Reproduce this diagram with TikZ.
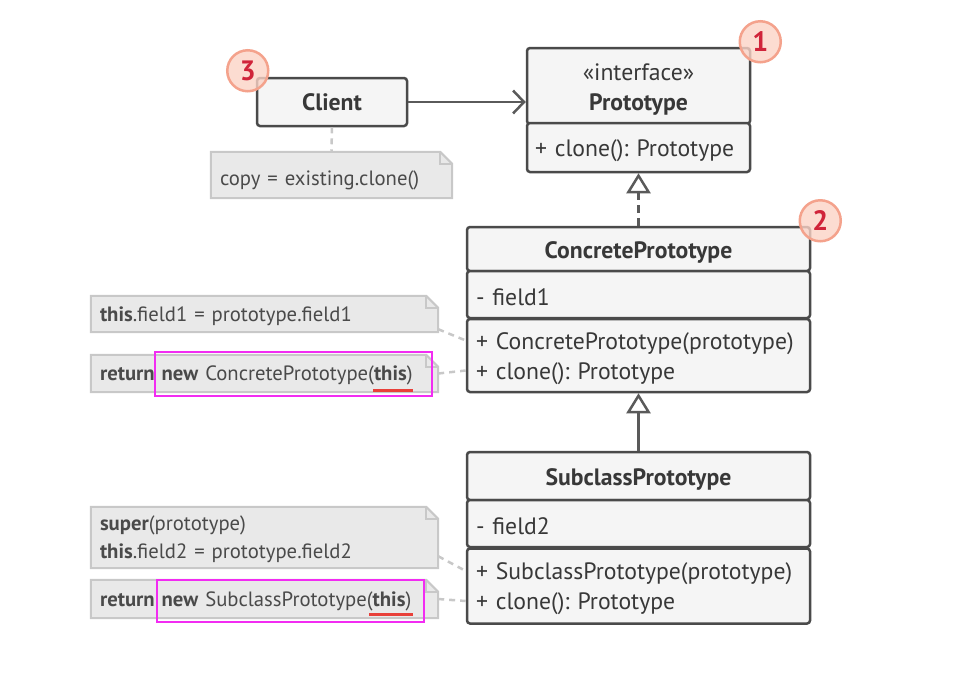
\documentclass[tikz,border=0pt]{standalone}
\usepackage{fontspec}
\setmainfont{PT Sans}
\usetikzlibrary{shapes, arrows.meta, backgrounds}
\definecolor{boxline}{HTML}{4A4A4A}
\definecolor{boxfill}{HTML}{F5F5F5}
\definecolor{boxtext}{HTML}{383838}
\definecolor{notefill}{HTML}{E9E9E9}
\definecolor{noteedge}{HTML}{C8C8C8}
\definecolor{notetext}{HTML}{4A4A4A}
\definecolor{linkgrey}{HTML}{5A5A5A}
\definecolor{badgeedge}{HTML}{F4A28C}
\definecolor{badgefill}{HTML}{FBD3C6}
\definecolor{badgetext}{HTML}{D0243A}
\definecolor{markpink}{HTML}{F22CF2}
\definecolor{markred}{HTML}{E8403A}
\frenchspacing

\begin{document}
\begin{tikzpicture}[x=1pt, y=-1pt]
		\tikzstyle{classbox} = [rectangle, draw=boxline, fill=boxfill, line width=2.5pt, rounded corners=3pt, text=boxtext, align=center, font=\fontsize{23.7}{30}\selectfont]
		\tikzstyle{titlebox} = [classbox, execute at begin node={\rule{0pt}{23pt}}]
		\tikzstyle{memberbox} = [titlebox, align=left, inner xsep=9pt, text width=325pt, minimum width=343pt]
		\tikzstyle{note} = [rectangle, align=left, inner xsep=9pt, text width=329pt, text=notetext, font=\fontsize{20.7}{28}\selectfont, execute at begin node={\rule{0pt}{19pt}}]
		\tikzstyle{noteedge} = [draw=noteedge, fill=notefill, line width=2pt]
		\tikzstyle{badge} = [circle, draw=badgeedge, fill=badgefill, fill opacity=0.8, text opacity=1, line width=2.5pt, minimum size=41pt, inner sep=0pt, text=badgetext, font=\fontsize{28}{28}\selectfont\bfseries]
		\tikzstyle{association} = [draw=linkgrey, line width=2.5pt, -{Straight Barb[length=11pt, width=23pt]}]
		\tikzstyle{realization} = [draw=linkgrey, line width=2.5pt, dash pattern=on 8pt off 5pt, -{Triangle[open, fill=white, length=20pt, width=24pt, line width=2.5pt]}]
		\tikzstyle{inheritance} = [draw=linkgrey, line width=2.5pt, -{Triangle[open, fill=white, length=20pt, width=24pt, line width=2.5pt]}]
		\tikzstyle{attach} = [draw=noteedge, line width=2.5pt, dash pattern=on 6pt off 5pt]
		\tikzstyle{highlight} = [draw=markpink, line width=2pt]
		\tikzstyle{underline} = [draw=markred, line width=3pt]
		\useasboundingbox (0,0) rectangle (973,681);
		% classes
		\node [classbox, minimum width=150pt, minimum height=48pt] at (332,102) (client) {\textbf{Client}};
		\node [classbox, minimum width=223pt, minimum height=76pt] at (638.5,86) (proto) {\raisebox{-4pt}[\height][\depth]{«interface»}\\\raisebox{-4pt}[\height][\depth]{\textbf{Prototype}}};
		\node [memberbox, text width=207pt, minimum width=223pt, inner xsep=8pt, minimum height=49pt] at (638.5,147.5) (protoOps) {+ clone(): Prototype};
		\node [titlebox, minimum width=343pt, minimum height=44pt] at (638.5,249) (concrete) {\textbf{ConcretePrototype}};
		\node [memberbox, minimum height=47pt] at (638.5,294.5) (concreteFields) {- field1};
		\node [memberbox, minimum height=73pt] at (638.5,355.5) (concreteOps) {+ ConcretePrototype(prototype)\\+ clone(): Prototype};
		\node [titlebox, minimum width=343pt, minimum height=48pt] at (638.5,476) (subclass) {\textbf{SubclassPrototype}};
		\node [memberbox, minimum height=47pt] at (638.5,523.5) (subclassFields) {- field2};
		\node [memberbox, minimum height=75pt] at (638.5,586) (subclassOps) {+ SubclassPrototype(prototype)\\+ clone(): Prototype};
		% notes
		\node [note, text width=223pt, minimum height=46pt, execute at begin node={\rule{0pt}{26pt}}] at (331.5,175) (noteClient) {copy = existing.clone()};
		\node [note, minimum height=36pt] at (264.5,314) (noteCopy) {\textbf{this}.field1 = prototype.field1};
		\node [note, minimum height=37pt] at (264.5,373.5) (noteConcrete) {\textbf{return} \textbf{new} ConcretePrototype(\textbf{this})};
		\node [note, minimum height=61pt] at (264.5,537.5) (noteSuper) {\textbf{super}(prototype)\\\textbf{this}.field2 = prototype.field2};
		\node [note, minimum height=38pt] at (264.5,599) (noteSubclass) {\textbf{return} \textbf{new} SubclassPrototype(\textbf{this})};
		\begin{scope}[on background layer]
			\foreach \n in {noteClient, noteCopy, noteConcrete, noteSuper, noteSubclass} {
				\path [noteedge] (\n.north west) -- ([xshift=-12pt]\n.north east) -- ([yshift=-12pt]\n.north east) -- (\n.south east) -- (\n.south west) -- cycle;
				\path [draw=noteedge, line width=2pt] ([xshift=-12pt]\n.north east) |- ([yshift=-12pt]\n.north east);
			}
		\end{scope}
		% connectors
		\path [association] (client) -- (client -| proto.west);
		\path [realization] (concrete) -- (protoOps);
		\path [inheritance] (subclass) -- (concreteOps);
		\path [attach] (client) -- (noteClient);
		\path [attach] ([yshift=3pt]noteCopy.south east) -- ([yshift=15pt]concreteOps.west);
		\path [attach] (noteConcrete.east) -- ([yshift=-15pt]concreteOps.west);
		\path [attach] ([yshift=12pt]noteSuper.south east) -- ([yshift=15pt]subclassOps.west);
		\path [attach] (noteSubclass.east) -- ([yshift=-15pt]subclassOps.west);
		% marks
		\draw [highlight] (155,352) rectangle (432,396);
		\draw [underline] (373,390) -- (413,390);
		\draw [highlight] (157,580) rectangle (424,622);
		\draw [underline] (369,614) -- (413,614);
		% badges
		\node [badge] at ([xshift=9pt, yshift=5pt]proto.north east) (badgeProto) {1};
		\node [badge] at ([xshift=9pt, yshift=5pt]concrete.north east) (badgeConcrete) {2};
		\node [badge] at ([xshift=-8pt, yshift=6pt]client.north west) (badgeClient) {3};
	\end{tikzpicture}
\end{document}
